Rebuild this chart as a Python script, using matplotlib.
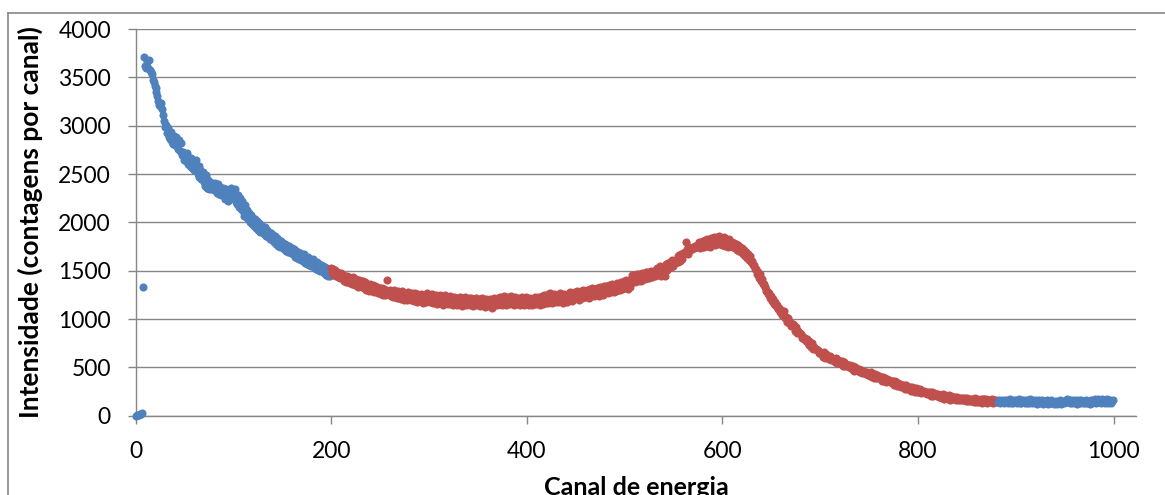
import numpy as np
import matplotlib
matplotlib.use("Agg")
import matplotlib.pyplot as plt
from matplotlib.lines import Line2D

plt.rcParams['font.family'] = ['Lato', 'DejaVu Sans']

# Contagens por canal (espectro medido), em tres trechos
azul_inicio = [  # canais 0-199
    0, 3, 6, 10, 14, 22, 30, 1330, 3710, 3620,
    3595, 3655, 3600, 3680, 3575, 3560, 3530, 3470, 3450, 3410,
    3385, 3350, 3310, 3255, 3215, 3200, 3230, 3170, 3110, 3050,
    2990, 3010, 2920, 2975, 2880, 2860, 2930, 2830, 2810, 2890,
    2800, 2880, 2790, 2760, 2850, 2740, 2820, 2700, 2730, 2650,
    2700, 2630, 2720, 2600, 2660, 2580, 2670, 2560, 2620, 2540,
    2600, 2640, 2530, 2500, 2580, 2470, 2540, 2450, 2500, 2520,
    2420, 2380, 2490, 2360, 2440, 2350, 2420, 2340, 2410, 2400,
    2330, 2410, 2340, 2300, 2400, 2290, 2370, 2280, 2350, 2360,
    2320, 2240, 2350, 2280, 2220, 2310, 2240, 2360, 2270, 2330,
    2290, 2350, 2210, 2190, 2280, 2160, 2250, 2140, 2220, 2120,
    2150, 2070, 2180, 2060, 2130, 2030, 2100, 2000, 2080, 1980,
    2040, 1960, 2030, 1940, 2010, 1920, 1990, 1900, 1970, 1910,
    1940, 1880, 1955, 1860, 1925, 1845, 1905, 1830, 1890, 1820,
    1870, 1800, 1855, 1780, 1835, 1760, 1820, 1750, 1805, 1740,
    1790, 1725, 1780, 1700, 1765, 1715, 1690, 1760, 1700, 1680,
    1735, 1670, 1720, 1645, 1705, 1630, 1690, 1620, 1680, 1610,
    1660, 1600, 1675, 1580, 1635, 1570, 1645, 1560, 1620, 1550,
    1595, 1620, 1535, 1590, 1520, 1585, 1510, 1570, 1500, 1560,
    1525, 1550, 1475, 1540, 1460, 1515, 1450, 1505, 1440, 1500,
]

vermelho = [  # canais 200-881
    1525, 1480, 1515, 1455, 1505, 1440, 1490, 1435, 1480, 1425,
    1475, 1420, 1460, 1395, 1450, 1385, 1440, 1380, 1435, 1370,
    1420, 1365, 1430, 1375, 1350, 1415, 1360, 1335, 1400, 1345,
    1390, 1330, 1390, 1320, 1380, 1305, 1365, 1320, 1290, 1360,
    1350, 1290, 1355, 1300, 1275, 1340, 1285, 1335, 1265, 1325,
    1320, 1260, 1325, 1250, 1310, 1245, 1305, 1405, 1255, 1280,
    1305, 1235, 1290, 1225, 1300, 1230, 1280, 1215, 1290, 1220,
    1275, 1210, 1285, 1220, 1200, 1270, 1215, 1195, 1280, 1210,
    1260, 1195, 1270, 1205, 1185, 1265, 1200, 1255, 1180, 1250,
    1245, 1185, 1260, 1190, 1170, 1250, 1195, 1175, 1265, 1190,
    1245, 1175, 1230, 1260, 1165, 1235, 1180, 1250, 1160, 1230,
    1220, 1245, 1165, 1235, 1150, 1225, 1250, 1170, 1230, 1155,
    1220, 1240, 1160, 1215, 1145, 1230, 1165, 1220, 1140, 1215,
    1205, 1230, 1150, 1215, 1135, 1210, 1155, 1225, 1140, 1205,
    1200, 1215, 1140, 1220, 1150, 1130, 1205, 1145, 1215, 1155,
    1145, 1210, 1130, 1195, 1220, 1140, 1200, 1125, 1205, 1150,
    1195, 1135, 1210, 1145, 1115, 1200, 1220, 1150, 1210, 1140,
    1215, 1155, 1230, 1165, 1145, 1220, 1235, 1160, 1215, 1150,
    1165, 1230, 1155, 1220, 1240, 1160, 1215, 1145, 1225, 1170,
    1155, 1220, 1165, 1145, 1215, 1230, 1160, 1140, 1210, 1225,
    1215, 1155, 1150, 1220, 1165, 1140, 1210, 1160, 1225, 1155,
    1165, 1230, 1215, 1150, 1220, 1235, 1160, 1250, 1175, 1165,
    1185, 1260, 1170, 1235, 1270, 1180, 1165, 1240, 1255, 1175,
    1190, 1250, 1175, 1240, 1265, 1185, 1245, 1170, 1260, 1195,
    1240, 1180, 1260, 1195, 1275, 1205, 1185, 1265, 1210, 1280,
    1215, 1285, 1225, 1200, 1275, 1290, 1220, 1300, 1230, 1285,
    1230, 1305, 1245, 1220, 1315, 1250, 1235, 1320, 1255, 1240,
    1310, 1250, 1325, 1260, 1240, 1330, 1265, 1315, 1250, 1340,
    1275, 1340, 1280, 1265, 1350, 1290, 1275, 1360, 1295, 1280,
    1355, 1290, 1370, 1305, 1365, 1300, 1380, 1315, 1370, 1390,
    1325, 1400, 1340, 1315, 1395, 1335, 1410, 1460, 1420, 1400,
    1385, 1455, 1400, 1465, 1390, 1470, 1410, 1395, 1475, 1420,
    1470, 1410, 1485, 1425, 1490, 1420, 1480, 1500, 1435, 1490,
    1495, 1440, 1510, 1530, 1460, 1520, 1545, 1450, 1530, 1475,
    1540, 1440, 1570, 1510, 1580, 1525, 1595, 1535, 1610, 1550,
    1600, 1580, 1610, 1595, 1650, 1585, 1660, 1605, 1675, 1620,
    1685, 1670, 1695, 1800, 1725, 1670, 1740, 1715, 1730, 1725,
    1750, 1735, 1760, 1750, 1765, 1740, 1800, 1730, 1795, 1745,
    1805, 1740, 1815, 1755, 1830, 1760, 1820, 1750, 1835, 1770,
    1820, 1845, 1765, 1830, 1850, 1775, 1860, 1785, 1840, 1770,
    1835, 1775, 1850, 1760, 1825, 1770, 1750, 1830, 1765, 1790,
    1795, 1745, 1790, 1730, 1775, 1715, 1765, 1705, 1750, 1690,
    1730, 1675, 1715, 1655, 1695, 1635, 1675, 1610, 1655, 1585,
    1605, 1555, 1560, 1515, 1515, 1470, 1485, 1425, 1470, 1395,
    1415, 1365, 1365, 1330, 1330, 1285, 1295, 1255, 1265, 1220,
    1235, 1190, 1205, 1160, 1175, 1130, 1150, 1100, 1115, 1075,
    1090, 1045, 1060, 1085, 1015, 1025, 970, 1010, 955, 970,
    930, 945, 945, 935, 880, 915, 855, 875, 860, 855,
    845, 805, 815, 795, 800, 775, 790, 755, 775, 735,
    755, 710, 750, 695, 715, 690, 695, 675, 680, 645,
    660, 640, 650, 610, 655, 600, 635, 615, 620, 585,
    620, 575, 600, 580, 585, 560, 595, 545, 580, 540,
    565, 530, 570, 515, 555, 510, 535, 515, 525, 500,
    520, 495, 510, 475, 515, 465, 500, 475, 485, 460,
    480, 455, 470, 445, 465, 440, 455, 430, 450, 425,
    445, 410, 450, 400, 435, 395, 435, 385, 425, 390,
    410, 385, 400, 360, 405, 355, 395, 350, 375, 355,
    370, 345, 360, 335, 355, 320, 360, 315, 350, 310,
    335, 310, 325, 300, 320, 295, 315, 280, 320, 275,
    300, 275, 295, 260, 300, 255, 290, 250, 285, 245,
    280, 240, 275, 235, 260, 240, 255, 230, 250, 225,
    245, 220, 240, 205, 245, 200, 235, 210, 225, 200,
    225, 190, 215, 195, 210, 185, 220, 175, 210, 185,
    205, 170, 210, 165, 200, 175, 190, 170, 195, 160,
    195, 160, 185, 165, 180, 160, 185, 165, 180, 155,
    180, 155, 175, 150, 170, 150, 175, 140, 180, 145,
    170, 145, 165, 140, 175, 135, 170, 140, 175, 140,
    170, 135, 165, 145, 160, 140, 170, 135, 165, 140,
    165, 140,
]

azul_fim = [  # canais 882-999
    140, 160, 130, 155, 165, 140, 130, 160,
    140, 162, 130, 155, 168, 135, 155, 128, 160, 140,
    160, 130, 155, 168, 135, 128, 160, 140, 162, 130,
    140, 160, 128, 155, 135, 168, 145, 132, 160, 140,
    132, 158, 125, 150, 162, 130, 138, 158, 125, 150,
    140, 130, 158, 125, 150, 135, 162, 130, 140, 125,
    135, 152, 125, 145, 130, 158, 125, 138, 152, 130,
    142, 162, 168, 145, 158, 135, 165, 145, 130, 160,
    145, 132, 160, 125, 148, 165, 135, 158, 140, 130,
    148, 135, 160, 128, 150, 140, 125, 158, 135, 150,
    160, 168, 135, 155, 172, 140, 160, 128, 168, 140,
    160, 130, 148, 168, 135, 155, 162, 135, 148, 158,
]

canais_inicio = np.arange(0, len(azul_inicio))
canais_meio = np.arange(len(azul_inicio), len(azul_inicio) + len(vermelho))
canais_fim = np.arange(canais_meio[-1] + 1, canais_meio[-1] + 1 + len(azul_fim))

azul = '#4F81BD'
vermelho_cor = '#C0504D'
cinza = '#868686'

fig = plt.figure(figsize=(11.65, 4.95), dpi=100)
ax = fig.add_axes([0.1167, 0.1602, 0.8584, 0.7812])

for xs, ys, cor in [(canais_inicio, azul_inicio, azul),
                    (canais_meio, vermelho, vermelho_cor),
                    (canais_fim, azul_fim, azul)]:
    ax.scatter(xs, ys, s=34, c=cor, linewidths=0, zorder=3, clip_on=False)

ax.set_xlim(0, 1023)
ax.set_ylim(0, 4000)
ax.set_xticks(range(0, 1001, 200))
ax.set_yticks(range(0, 4001, 500))
ax.grid(axis='y', color=cinza, linewidth=1.0)
ax.set_axisbelow(True)
for lado in ['top', 'right']:
    ax.spines[lado].set_visible(False)
for lado in ['left', 'bottom']:
    ax.spines[lado].set_color(cinza)
    ax.spines[lado].set_linewidth(1.0)
ax.tick_params(length=6, width=1, color=cinza, pad=12, labelsize=16.5)

ax.set_xlabel('Canal de energia', fontsize=18, fontweight='bold', labelpad=10)
ax.set_ylabel('Intensidade (contagens por canal)', fontsize=19, fontweight='bold', labelpad=11)

# moldura do grafico (bordas esquerda e superior)
W, H = 1165, 495
fig.add_artist(Line2D([8 / W, 8 / W], [0, 1 - 13 / H], color=cinza, linewidth=1.2))
fig.add_artist(Line2D([8 / W, 1], [1 - 13 / H, 1 - 13 / H], color=cinza, linewidth=1.2))

fig.savefig('out.png', dpi=100)
